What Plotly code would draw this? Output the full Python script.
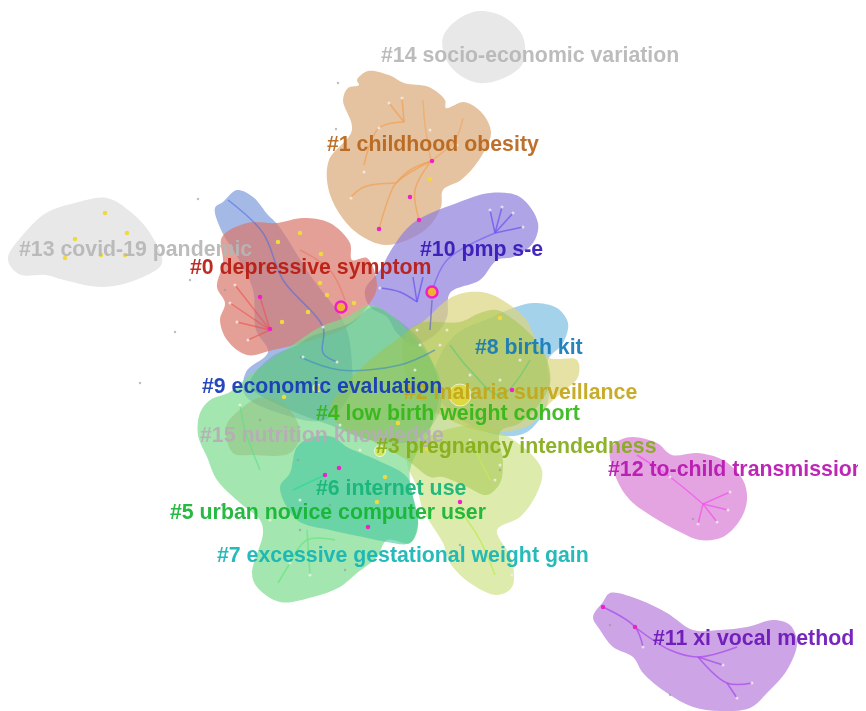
import plotly.graph_objects as go

# ---- cluster hulls: (name, x, y, rgba)
c14_x = [443,457,479,504,523,523,504,479,457,445]
c14_y = [37,20,11,17,37,63,78,83,73,57]
c13_x = [8,21,46,75,107,132,150,162,143,104,64,46,21,11]
c13_y = [257,237,213,203,198,213,233,263,277,287,280,275,275,267]
c1_x = [357,368,389,404,429,445,446,464,482,491,479,461,443,441,425,386,357,339,328,329,352,343,348,359]
c1_y = [80,71,75,83,87,100,108,102,113,133,160,180,190,207,230,245,233,213,187,160,130,100,88,85]
c10_x = [365,380,393,413,457,490,520,538,533,513,497,480,450,447,437,413,397,387,370]
c10_y = [290,270,247,223,203,193,197,223,243,257,260,280,293,317,333,345,333,317,307]
c0_x = [222,247,277,303,330,350,352,367,377,367,347,313,273,247,227,220,225,217,223]
c0_y = [237,223,223,218,223,243,260,258,287,307,327,340,350,355,340,320,303,287,263]
c9_x = [215,223,237,253,268,278,310,345,352,350,325,285,245,246,268,256,253,238,222]
c9_y = [208,202,190,197,215,225,275,325,365,395,420,415,395,372,352,330,290,258,232]
c8_x = [490,513,533,557,568,563,548,550,545,527,505,470,440,435,455]
c8_y = [318,308,303,308,323,343,360,385,410,432,436,425,400,370,335]
c2_x = [447,463,487,507,525,547,577,578,565,550,530,490,450,415,403,405,425]
c2_y = [300,293,293,303,318,357,360,377,390,403,425,432,420,395,360,335,320]
c4_x = [400,420,460,480,497,510,533,547,550,540,520,500,503,500,487,467,443,430,407,370,345,330,345,370]
c4_y = [337,323,322,313,310,317,337,360,383,403,423,432,463,483,495,487,477,477,460,440,430,410,385,360]
c3_x = [487,523,542,537,520,497,512,512,497,470,450,443,423,417,407,423,457]
c3_y = [427,447,470,493,517,530,560,587,595,583,563,543,510,487,460,440,427]
c5_x = [200,210,230,250,290,320,347,370,395,420,440,430,410,418,410,387,377,357,340,313,280,257,252,263,260,240,217,207,198]
c5_y = [413,400,392,375,347,327,317,305,318,345,380,430,470,527,543,540,557,573,587,597,602,587,573,533,520,503,480,457,435]
c6_x = [280,290,297,313,333,347,377,407,413,418,410,387,363,330,297]
c6_y = [487,473,447,437,437,447,460,477,497,523,543,542,537,530,520]
c7_x = [250,270,297,310,350,373,395,420,435,440,415,370,330,290]
c7_y = [385,358,345,337,323,307,318,340,370,410,440,440,425,410]
c15_x = [226,237,263,290,300,290,253,233]
c15_y = [427,412,397,410,435,453,455,453]
c12_x = [610,620,633,657,672,697,723,743,747,740,723,700,680,653,630,617]
c12_y = [450,440,437,443,455,453,460,480,500,520,537,540,532,517,500,480]
c11_x = [593,603,610,640,667,693,720,747,773,790,797,787,767,750,720,693,667,643,633,613,600]
c11_y = [617,602,593,600,613,630,630,627,620,625,643,670,693,708,711,707,693,673,657,647,630]

hulls = [
    (c14_x, c14_y, "rgba(222,222,222,0.7)"),
    (c13_x, c13_y, "rgba(222,222,222,0.7)"),
    (c1_x, c1_y, "rgba(219,169,119,0.7)"),
    (c10_x, c10_y, "rgba(141,126,219,0.7)"),
    (c9_x, c9_y, "rgba(126,155,219,0.7)"),
    (c0_x, c0_y, "rgba(216,119,105,0.7)"),
    (c8_x, c8_y, "rgba(126,191,226,0.7)"),
    (c2_x, c2_y, "rgba(219,212,126,0.7)"),
    (c3_x, c3_y, "rgba(198,222,119,0.6)"),
    (c5_x, c5_y, "rgba(126,219,141,0.7)"),
    (c7_x, c7_y, "rgba(70,170,140,0.35)"),
    (c6_x, c6_y, "rgba(70,200,160,0.6)"),
    (c4_x, c4_y, "rgba(160,195,70,0.5)"),
    (c15_x, c15_y, "rgba(140,180,110,0.4)"),
    (c12_x, c12_y, "rgba(216,126,212,0.7)"),
    (c11_x, c11_y, "rgba(184,126,219,0.7)"),
]

# ---- links between nodes
links = [
    ([379,389,396,431], [229,197,183,161], "rgba(240,160,80,0.7)"),
    ([350,364,396], [198,187,183], "rgba(240,160,80,0.7)"),
    ([396,410,431], [183,170,161], "rgba(240,160,80,0.7)"),
    ([364,379,404], [165,128,122], "rgba(240,160,80,0.7)"),
    ([404,389], [122,103], "rgba(240,160,80,0.7)"),
    ([404,402], [122,98], "rgba(240,160,80,0.7)"),
    ([419,415,431], [220,190,161], "rgba(240,160,80,0.7)"),
    ([431,425,423], [161,125,100], "rgba(240,160,80,0.5)"),
    ([431,455,463], [161,140,118], "rgba(240,160,80,0.5)"),
    ([495,490], [233,210], "rgba(110,90,240,0.8)"),
    ([495,502], [233,207], "rgba(110,90,240,0.8)"),
    ([495,513], [233,213], "rgba(110,90,240,0.8)"),
    ([495,523], [233,227], "rgba(110,90,240,0.8)"),
    ([495,447,432], [233,260,292], "rgba(110,90,240,0.6)"),
    ([417,400,380], [302,292,288], "rgba(110,90,240,0.8)"),
    ([417,413], [302,277], "rgba(110,90,240,0.8)"),
    ([417,423], [302,277], "rgba(110,90,240,0.8)"),
    ([432,430], [300,330], "rgba(90,90,200,0.6)"),
    ([270,235], [330,285], "rgba(240,80,80,0.6)"),
    ([270,230], [330,303], "rgba(240,80,80,0.6)"),
    ([270,237], [330,322], "rgba(240,80,80,0.6)"),
    ([270,248], [330,340], "rgba(240,80,80,0.6)"),
    ([270,260], [330,297], "rgba(240,80,80,0.6)"),
    ([300,330,345], [250,270,300], "rgba(240,110,90,0.5)"),
    ([228,263,283,323,323,337], [200,233,280,327,353,362], "rgba(80,110,225,0.6)"),
    ([703,730], [504,492], "rgba(240,90,235,0.8)"),
    ([703,728], [504,510], "rgba(240,90,235,0.8)"),
    ([703,717], [504,522], "rgba(240,90,235,0.8)"),
    ([703,698], [504,524], "rgba(240,90,235,0.8)"),
    ([703,670,637], [504,477,455], "rgba(240,90,235,0.8)"),
    ([603,635,643], [607,627,647], "rgba(170,80,235,0.8)"),
    ([635,670,698,737], [627,650,657,647], "rgba(170,80,235,0.8)"),
    ([698,723], [657,665], "rgba(170,80,235,0.8)"),
    ([698,727,752], [657,683,683], "rgba(170,80,235,0.8)"),
    ([727,737], [683,698], "rgba(170,80,235,0.8)"),
    ([325,310,293], [475,482,490], "rgba(40,220,150,0.7)"),
    ([290,278], [563,583], "rgba(100,230,130,0.7)"),
    ([290,307,335], [563,540,540], "rgba(100,230,130,0.7)"),
    ([307,310], [530,575], "rgba(100,230,130,0.7)"),
    ([240,245,260], [405,430,470], "rgba(90,225,130,0.6)"),
    ([300,340,400,435], [357,370,365,350], "rgba(60,140,190,0.6)"),
    ([450,470,500,530], [345,370,395,360], "rgba(90,200,120,0.6)"),
    ([460,480,495], [510,540,575], "rgba(190,235,90,0.8)"),
    ([470,490], [440,480], "rgba(190,235,90,0.8)"),
]

# ---- nodes
magenta_x = [432,410,419,379,260,270,325,339,368,460,512,603,635]
magenta_y = [161,197,220,229,297,329,475,468,527,502,390,607,627]
yellow_x = [430,300,278,321,320,327,354,308,282,284,398,385,377,427,500,105,75,65,127,125,101]
yellow_y = [179,233,242,254,283,295,303,312,322,397,423,477,502,449,318,213,239,258,233,255,255]
pale_x = [389,402,364,379,351,430,457,490,502,513,523,417,380,420,235,230,237,248,323,337,303,730,728,717,698,670,643,723,752,737,447,415,440,470,500,520,300,270,240,340,360,290,310,470,495,512,500]
pale_y = [103,98,172,128,198,130,145,210,207,213,227,330,288,345,285,303,322,340,327,362,357,492,510,522,524,477,647,665,683,698,330,370,345,375,380,360,500,520,405,425,450,563,575,440,480,575,465]
gray_x = [338,336,198,225,140,190,175,298,222,392,370,260,330,300,345,470,500,460,693,610,670]
gray_y = [83,129,199,290,383,280,332,460,505,555,492,420,505,530,570,510,470,545,519,625,695]

ring_x = [341,432]
ring_y = [307,292]
glow_x = [460,380,317]
glow_y = [395,451,388]
glow_size = [22,11,8]

# ---- labels
labels = ["#14 socio-economic variation","#1 childhood obesity","#13 covid-19 pandemic","#10 pmp s-e",
          "#0 depressive symptom","#8 birth kit","#2 malaria surveillance","#9 economic evaluation",
          "#4 low birth weight cohort","#15 nutrition knowledge","#3 pregnancy intendedness",
          "#12 to-child transmission","#6 internet use","#5 urban novice computer user",
          "#7 excessive gestational weight gain","#11 xi vocal method"]
label_x = [381,327,19,420,190,475,404,202,316,200,376,608,316,170,217,653]
label_y = [57,146,251,251,269,349,394,388,415,437,448,471,490,514,557,640]
label_col = ["#b6b6b6","#b8651a","#b6b6b6","#3414b8","#b81a10","#147ab8","#c4a618","#1438b8",
             "#33b818","#b8acb8","#84ad18","#b814b0","#14b478","#14b432","#14b4b4","#6a14b8"]

fig = go.Figure()
for x, y, col in hulls:
    fig.add_trace(go.Scatter(x=x + x[:1], y=y + y[:1], mode="lines", fill="toself", fillcolor=col,
                             line=dict(shape="spline", smoothing=1.0, width=0, color="rgba(0,0,0,0)"),
                             hoverinfo="skip"))
for x, y, col in links:
    fig.add_trace(go.Scatter(x=x, y=y, mode="lines", line=dict(shape="spline", width=1.5, color=col), hoverinfo="skip"))

fig.add_trace(go.Scatter(x=gray_x, y=gray_y, mode="markers", marker=dict(size=2.5, color="rgba(150,150,150,0.6)"), hoverinfo="skip"))
fig.add_trace(go.Scatter(x=pale_x, y=pale_y, mode="markers", marker=dict(size=3, color="rgba(245,240,235,0.8)"), hoverinfo="skip"))
fig.add_trace(go.Scatter(x=glow_x, y=glow_y, mode="markers", marker=dict(size=glow_size, color="rgba(245,225,40,0.9)"), hoverinfo="skip"))
fig.add_trace(go.Scatter(x=yellow_x, y=yellow_y, mode="markers", marker=dict(size=4.5, color="#f0d840"), hoverinfo="skip"))
fig.add_trace(go.Scatter(x=magenta_x, y=magenta_y, mode="markers", marker=dict(size=4.5, color="#f020c8"), hoverinfo="skip"))
fig.add_trace(go.Scatter(x=ring_x, y=ring_y, mode="markers",
                         marker=dict(size=11, color="#f0b030", line=dict(width=2.5, color="#f020c8")), hoverinfo="skip"))
fig.add_trace(go.Scatter(x=label_x, y=label_y, mode="text", text=labels, textposition="middle right",
                         textfont=dict(family="Liberation Sans", size=21.3, color=label_col, weight=700),
                         opacity=0.92, hoverinfo="skip"))

# the page body has an 8 px margin, so the plot area starts at pixel (8, 8)
fig.update_layout(width=858, height=703, margin=dict(l=0, r=0, t=0, b=0), showlegend=False,
                  paper_bgcolor="white", plot_bgcolor="white",
                  xaxis=dict(range=[8, 866], visible=False),
                  yaxis=dict(range=[711, 8], visible=False))
fig.write_html("out.html")
